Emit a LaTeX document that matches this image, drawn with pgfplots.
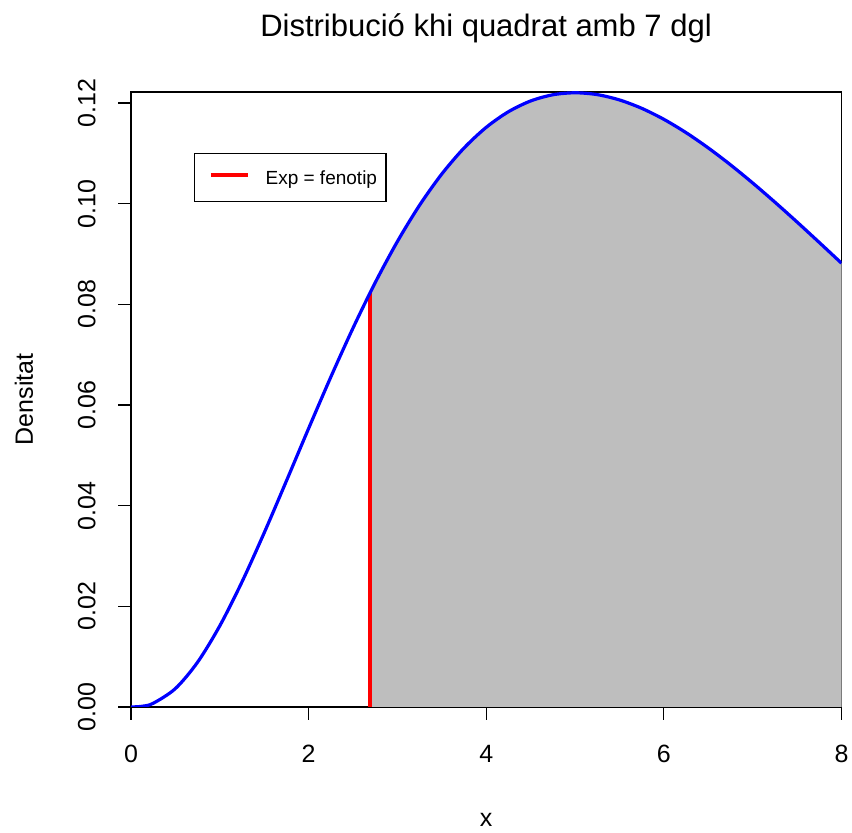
\documentclass[border=0pt]{standalone}
\usepackage{fontspec}
\setmainfont{Liberation Sans}
\usepackage{pgfplots}
\pgfplotsset{compat=1.18}
\definecolor{rgray}{RGB}{190,190,190}
\definecolor{rblue}{RGB}{0,0,255}
\definecolor{rred}{RGB}{255,0,0}
\begin{document}
\begin{tikzpicture}
\path[use as bounding box] (0,0) rectangle (426pt,416.5pt);
\begin{axis}[
  at={(65.5pt,63pt)}, anchor=south west,
  scale only axis, width=355.25pt, height=307.5pt,
  xmin=0, xmax=8, ymin=0, ymax=0.1222,
  axis line style={line width=0.6pt},
  xtick={0,2,4,6,8},
  ytick={0,0.02,0.04,0.06,0.08,0.10,0.12},
  yticklabels={0.00,0.02,0.04,0.06,0.08,0.10,0.12},
  xtick pos=lower, ytick pos=left,
  tick align=outside,
  major tick length=6.5pt,
  tick style={line width=0.6pt, black},
  /pgf/number format/assume math mode=true,
  ticklabel style={font=\fontsize{12.5}{15}\selectfont},
  xticklabel style={anchor=north, inner sep=0pt},
  xticklabel shift=12.5pt,
  yticklabel style={rotate=90, anchor=south, inner sep=0pt},
  yticklabel shift=11pt,
  legend style={at={(0.0887,0.901)}, anchor=north west, draw=black, line width=0.6pt,
    fill=white, inner xsep=4.5pt, inner ysep=7pt,
    font=\fontsize{9.5}{11}\selectfont,
    nodes={inner sep=0pt, text height=8.7pt, text depth=1.3pt},
    /tikz/column sep=8pt},
  legend image code/.code={
    \path[draw=none] (0pt,0pt) -- (23pt,0pt);
    \draw[rred, line width=1.7pt] (3.6pt,1.2pt) -- (22pt,1.2pt);
  },
]
\addplot[fill=rgray, draw=none, forget plot] coordinates {
(2.69,0.082239) (2.75,0.084333) (3,0.092510) (3.25,0.099724) (3.5,0.105918)
(3.75,0.111067) (4,0.115182) (4.25,0.118282) (4.5,0.120418) (4.75,0.121648)
(5,0.122043) (5.25,0.121675) (5.5,0.120621) (5.75,0.118959) (6,0.116767)
(6.25,0.114118) (6.5,0.111083) (6.75,0.107730) (7,0.104120) (7.25,0.100311)
(7.5,0.096355) (7.75,0.092295) (8,0.088182)
} \closedcycle;
\addplot[rred, line width=1.7pt] coordinates {(2.69,0) (2.69,0.082239)};
\addlegendentry{Exp = fenotip}
\addplot[rblue, line width=1.6pt, smooth, forget plot] coordinates {
(0,0) (0.125,0.000138) (0.25,0.000733) (0.5,0.003662) (0.75,0.008905)
(1,0.016132) (1.25,0.024869) (1.5,0.034620) (1.75,0.044917) (2,0.055348)
(2.25,0.065568) (2.5,0.075301) (2.75,0.084333) (3,0.092510)
(3.25,0.099724) (3.5,0.105918) (3.75,0.111067) (4,0.115182) (4.25,0.118282)
(4.5,0.120418) (4.75,0.121648) (5,0.122043) (5.25,0.121675) (5.5,0.120621)
(5.75,0.118959) (6,0.116767) (6.25,0.114118) (6.5,0.111083) (6.75,0.107730)
(7,0.104120) (7.25,0.100311) (7.5,0.096355) (7.75,0.092295) (8,0.088182)
};
\end{axis}
\node[anchor=base, font=\fontsize{15.5}{18}\selectfont] at (243pt,398pt) {Distribució khi quadrat amb 7 dgl};
\node[rotate=90, font=\fontsize{12.5}{15}\selectfont] at (12pt,216.75pt) {Densitat};
\node[anchor=base, font=\fontsize{12.5}{15}\selectfont] at (243pt,3pt) {x};
\end{tikzpicture}
\end{document}
